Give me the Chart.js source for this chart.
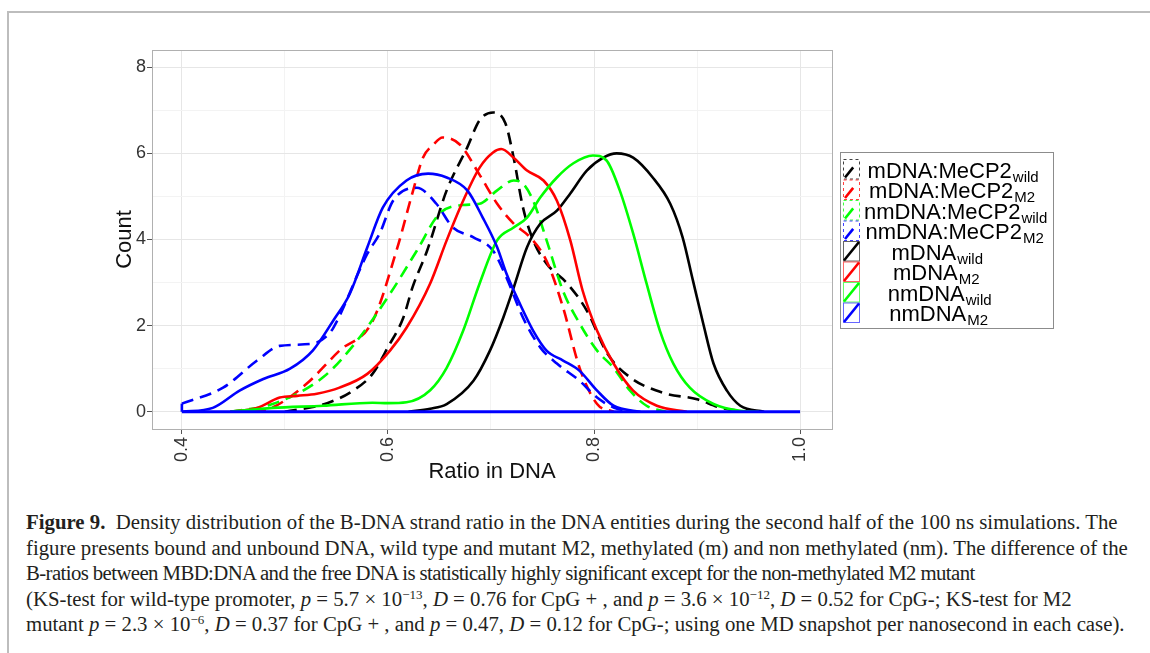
<!DOCTYPE html>
<html>
<head>
<meta charset="utf-8">
<title>B-DNA ratio density</title>
<script src="https://cdn.jsdelivr.net/npm/chart.js@4/dist/chart.umd.min.js"></script>
<style>
  body { margin: 0; background: #fff; width: 1150px; height: 653px; overflow: hidden; position: relative; }
  #frame { position: absolute; left: 7px; top: 11px; right: 0; bottom: 0; border-top: 2px solid #bdbdbd; border-left: 2px solid #bdbdbd; }
  #chart-box { position: absolute; left: 0; top: 0; width: 1150px; height: 495px; }
  #caption { position: absolute; left: 26px; top: 509px; font-family: "Liberation Serif", serif; font-size: 20.8px; line-height: 25.5px; color: #231f20; white-space: nowrap; }
  #caption .tight { letter-spacing: -0.6px; }
  #caption sup { font-size: 13px; line-height: 0; vertical-align: 7px; }
</style>
</head>
<body>
<div id="frame"></div>
<div id="chart-box"><canvas id="density-chart" width="1150" height="495"></canvas></div>
<div id="caption">
  <div><b>Figure 9.</b>&nbsp; Density distribution of the B-DNA strand ratio in the DNA entities during the second half of the 100 ns simulations. The</div>
  <div>figure presents bound and unbound DNA, wild type and mutant M2, methylated (m) and non methylated (nm). The difference of the</div>
  <div class="tight">B-ratios between MBD:DNA and the free DNA is statistically highly significant except for the non-methylated M2 mutant</div>
  <div>(KS-test for wild-type promoter, <i>p</i> = 5.7 × 10<sup>−13</sup>, <i>D</i> = 0.76 for CpG + , and <i>p</i> = 3.6 × 10<sup>−12</sup>, <i>D</i> = 0.52 for CpG-; KS-test for M2</div>
  <div>mutant <i>p</i> = 2.3 × 10<sup>−6</sup>, <i>D</i> = 0.37 for CpG + , and <i>p</i> = 0.47, <i>D</i> = 0.12 for CpG-; using one MD snapshot per nanosecond in each case).</div>
</div>
<script>
// axis ticks (minor ticks get an empty label)
const ratioTicks = [0.4, 0.5, 0.6, 0.7, 0.8, 0.9, 1.0];
const ratioTickLabels = ["0.4", "", "0.6", "", "0.8", "", "1.0"];
const countTicks = [0, 1, 2, 3, 4, 5, 6, 7, 8];
const countTickLabels = ["0", "", "2", "", "4", "", "6", "", "8"];

// mDNA:MeCP2 wild
const mMecpWildX = [0.5, 0.541, 0.566, 0.585, 0.6, 0.615, 0.624, 0.638, 0.657, 0.677, 0.689, 0.702, 0.714, 0.722, 0.731, 0.741, 0.754, 0.774, 0.793, 0.813, 0.835, 0.867, 0.9, 0.922, 0.948];
const mMecpWildY = [0, 0.2, 0.49, 0.88, 1.5, 2.19, 2.9, 3.74, 5.14, 6.14, 6.77, 6.95, 6.7, 5.9, 4.75, 3.98, 3.44, 2.98, 2.35, 1.35, 0.8, 0.44, 0.29, 0.1, 0];

// mDNA:MeCP2 M2
const mMecpM2X = [0.47, 0.488, 0.521, 0.553, 0.585, 0.609, 0.624, 0.634, 0.644, 0.653, 0.67, 0.689, 0.706, 0.722, 0.738, 0.754, 0.77, 0.786, 0.803, 0.819];
const mMecpM2Y = [0, 0.1, 0.65, 1.42, 2.1, 3.8, 5.1, 5.9, 6.2, 6.37, 6.2, 5.5, 4.83, 4.37, 4.05, 3.5, 2.42, 1.02, 0.18, 0];

// nmDNA:MeCP2 wild
const nmMecpWildX = [0.447, 0.488, 0.537, 0.57, 0.602, 0.628, 0.65, 0.673, 0.689, 0.706, 0.722, 0.731, 0.741, 0.754, 0.77, 0.786, 0.803, 0.819, 0.835, 0.851, 0.87];
const nmMecpWildY = [0, 0.18, 0.8, 1.65, 2.74, 3.74, 4.6, 4.8, 4.83, 5.14, 5.37, 5.3, 4.9, 3.98, 2.8, 2.05, 1.42, 1.02, 0.49, 0.14, 0];

// nmDNA:MeCP2 M2 (its outline closes down to 0 at x = 0.4)
const nmMecpM2X = [0.4, 0.44, 0.473, 0.495, 0.527, 0.541, 0.547, 0.58, 0.592, 0.605, 0.628, 0.647, 0.663, 0.683, 0.702, 0.715, 0.731, 0.748, 0.764, 0.786, 0.803, 0.819, 0.84];
const nmMecpM2Y = [0.19, 0.56, 1.19, 1.53, 1.58, 1.77, 1.95, 3.67, 4.14, 4.9, 5.2, 4.83, 4.28, 4.05, 3.74, 3.12, 2.19, 1.49, 1.12, 0.72, 0.33, 0.1, 0];
const nmMecpM2EdgeX = [0.4, 0.4];
const nmMecpM2EdgeY = [0, 0.19];

// mDNA wild
const mWildX = [0.62, 0.641, 0.657, 0.683, 0.699, 0.712, 0.722, 0.735, 0.748, 0.764, 0.777, 0.793, 0.809, 0.822, 0.838, 0.857, 0.874, 0.886, 0.896, 0.906, 0.916, 0.929, 0.942, 0.965];
const mWildY = [0, 0.07, 0.18, 0.72, 1.42, 2.19, 2.88, 3.82, 4.37, 4.67, 5.07, 5.6, 5.9, 6.0, 5.9, 5.44, 4.83, 4.05, 3.05, 2.05, 1.12, 0.49, 0.14, 0];

// mDNA M2
const mM2X = [0.447, 0.473, 0.495, 0.512, 0.531, 0.553, 0.58, 0.602, 0.618, 0.641, 0.657, 0.673, 0.689, 0.702, 0.71, 0.722, 0.735, 0.751, 0.764, 0.777, 0.789, 0.803, 0.819, 0.838, 0.861, 0.89];
const mM2Y = [0, 0.09, 0.33, 0.37, 0.42, 0.56, 0.88, 1.42, 1.95, 2.98, 3.98, 4.9, 5.67, 6.02, 6.1, 5.9, 5.6, 5.37, 4.9, 3.98, 2.81, 1.88, 1.12, 0.49, 0.14, 0];

// nmDNA wild
const nmWildX = [0.447, 0.488, 0.537, 0.585, 0.6, 0.618, 0.641, 0.657, 0.673, 0.689, 0.706, 0.722, 0.735, 0.748, 0.764, 0.78, 0.799, 0.812, 0.825, 0.838, 0.851, 0.864, 0.877, 0.893, 0.916, 0.942, 0.96];
const nmWildY = [0, 0.09, 0.14, 0.21, 0.2, 0.22, 0.5, 1.02, 1.88, 2.98, 3.98, 4.28, 4.51, 4.98, 5.44, 5.77, 5.95, 5.84, 5.14, 4.14, 2.98, 1.88, 1.12, 0.56, 0.18, 0.02, 0];

// nmDNA M2
const nmM2X = [0.4, 0.43, 0.456, 0.479, 0.505, 0.527, 0.547, 0.563, 0.58, 0.595, 0.618, 0.639, 0.657, 0.677, 0.692, 0.706, 0.715, 0.728, 0.741, 0.754, 0.77, 0.786, 0.803, 0.819, 0.845];
const nmM2Y = [0, 0.09, 0.49, 0.76, 1.0, 1.42, 2.12, 2.74, 3.82, 4.74, 5.37, 5.53, 5.44, 5.14, 4.51, 3.82, 3.21, 2.51, 1.88, 1.42, 1.19, 0.95, 0.49, 0.14, 0];

// shared zero line of the closed density outlines
const baseX = [0.4, 1.0];
const baseY = [0, 0];

const DASH = [12, 7];

function toPoints(xs, ys) {
  return xs.map((x, i) => ({ x: x, y: ys[i] }));
}

// legend order; the last one ends up on top of the plot
const series = [
  { main: "mDNA:MeCP2", sub: "wild", color: "#000000", dashed: true, xs: mMecpWildX, ys: mMecpWildY },
  { main: "mDNA:MeCP2", sub: "M2", color: "#ff0000", dashed: true, xs: mMecpM2X, ys: mMecpM2Y },
  { main: "nmDNA:MeCP2", sub: "wild", color: "#00ff00", dashed: true, xs: nmMecpWildX, ys: nmMecpWildY },
  { main: "nmDNA:MeCP2", sub: "M2", color: "#0000ff", dashed: true, xs: nmMecpM2X, ys: nmMecpM2Y },
  { main: "mDNA", sub: "wild", color: "#000000", dashed: false, xs: mWildX, ys: mWildY },
  { main: "mDNA", sub: "M2", color: "#ff0000", dashed: false, xs: mM2X, ys: mM2Y },
  { main: "nmDNA", sub: "wild", color: "#00ff00", dashed: false, xs: nmWildX, ys: nmWildY },
  { main: "nmDNA", sub: "M2", color: "#0000ff", dashed: false, xs: nmM2X, ys: nmM2Y }
];

const datasets = series.map((s, i) => ({
  label: s.main + " " + s.sub,
  data: toPoints(s.xs, s.ys),
  borderColor: s.color,
  borderWidth: 2.6,
  borderDash: s.dashed ? DASH : [],
  cubicInterpolationMode: "monotone",
  pointRadius: 0,
  fill: false,
  order: 20 - i
}));

datasets.push({
  label: "nmDNA:MeCP2 M2 edge",
  data: toPoints(nmMecpM2EdgeX, nmMecpM2EdgeY),
  borderColor: "#0000ff",
  borderWidth: 2.6,
  tension: 0,
  pointRadius: 0,
  fill: false,
  order: 15
});

datasets.push({
  label: "baseline",
  data: toPoints(baseX, baseY),
  borderColor: "#0000ff",
  borderWidth: 3,
  tension: 0,
  pointRadius: 0,
  fill: false,
  order: 1
});

// grey panel frame, drawn under the curves
const panelFrame = {
  id: "panelFrame",
  beforeDatasetsDraw(chart) {
    const { ctx, chartArea: a } = chart;
    ctx.save();
    ctx.strokeStyle = "#b0b0b0";
    ctx.lineWidth = 1;
    ctx.strokeRect(Math.round(a.left) + 0.5, Math.round(a.top) + 0.5,
      Math.round(a.right - a.left), Math.round(a.bottom - a.top));
    ctx.restore();
  }
};

function drawKey(ctx, x, y, w, h, s) {
  ctx.save();
  ctx.strokeStyle = s.color;
  if (s.dashed) {
    ctx.lineWidth = 1;
    ctx.setLineDash([3, 3]);
    ctx.globalAlpha = 0.75;
    ctx.strokeRect(x + 0.5, y + 0.5, w - 1, h - 1);
    ctx.globalAlpha = 1;
    ctx.lineWidth = 2.6;
    ctx.setLineDash([13, 40]);
    ctx.beginPath();
    ctx.moveTo(x + 2, y + h - 2);
    ctx.lineTo(x + w, y);
    ctx.stroke();
  } else {
    ctx.lineWidth = 1;
    ctx.globalAlpha = 0.6;
    ctx.strokeRect(x + 0.5, y + 0.5, w - 1, h - 1);
    ctx.globalAlpha = 1;
    ctx.lineWidth = 2.6;
    ctx.beginPath();
    ctx.moveTo(x + 1, y + h - 1);
    ctx.lineTo(x + w - 1, y + 1);
    ctx.stroke();
  }
  ctx.restore();
}

// legend with subscripted labels
const subLegend = {
  id: "subLegend",
  afterDraw(chart) {
    const ctx = chart.ctx;
    ctx.save();
    ctx.strokeStyle = "#8c8c8c";
    ctx.lineWidth = 1;
    ctx.strokeRect(840.5, 152.5, 213, 176);
    const rowH = 20.5;
    series.forEach((s, i) => {
      const top = 159 + i * rowH;
      drawKey(ctx, 843, top, 17, rowH, s);
      ctx.fillStyle = "#000";
      ctx.textBaseline = "alphabetic";
      ctx.textAlign = "left";
      ctx.font = '22px "Liberation Sans", Arial, sans-serif';
      const mw = ctx.measureText(s.main).width;
      ctx.font = '15px "Liberation Sans", Arial, sans-serif';
      const sw = ctx.measureText(s.sub).width;
      const start = 918.6 - 0.3 * (mw + sw);
      const base = top + 18.5;
      ctx.font = '22px "Liberation Sans", Arial, sans-serif';
      ctx.fillText(s.main, start, base);
      ctx.font = '15px "Liberation Sans", Arial, sans-serif';
      ctx.fillText(s.sub, start + mw + 1, base + 4);
    });
    ctx.restore();
  }
};

const canvas = document.getElementById("density-chart").getContext("2d");
new Chart(canvas, {
  type: "line",
  data: { datasets: datasets },
  plugins: [panelFrame, subLegend],
  options: {
    responsive: false,
    animation: false,
    devicePixelRatio: 1,
    layout: { padding: { left: 112, top: 50, right: 318, bottom: 10 } },
    plugins: {
      legend: { display: false },
      tooltip: { enabled: false }
    },
    scales: {
      x: {
        type: "linear",
        min: 0.371,
        max: 1.031,
        afterBuildTicks: (scale) => { scale.ticks = ratioTicks.map(v => ({ value: v })); },
        afterFit: (scale) => { scale.height = 56; },
        border: { display: false },
        grid: {
          color: (c) => ratioTickLabels[c.index] ? "#e6e6e6" : "#f3f3f3",
          tickColor: (c) => ratioTickLabels[c.index] ? "#555555" : "rgba(0,0,0,0)",
          tickLength: 5,
          lineWidth: 1
        },
        ticks: {
          autoSkip: false,
          minRotation: 90,
          maxRotation: 90,
          padding: 3,
          color: "#333333",
          font: { family: '"Liberation Sans", Arial, sans-serif', size: 18 },
          callback: (v, i) => ratioTickLabels[i]
        },
        title: {
          display: true,
          text: "Ratio in DNA",
          color: "#111111",
          padding: 0,
          font: { family: '"Liberation Sans", Arial, sans-serif', size: 22 }
        }
      },
      y: {
        type: "linear",
        min: -0.4,
        max: 8.4,
        afterBuildTicks: (scale) => { scale.ticks = countTicks.map(v => ({ value: v })); },
        afterFit: (scale) => { scale.width = 40; },
        border: { display: false },
        grid: {
          color: (c) => countTickLabels[c.index] ? "#e6e6e6" : "#f3f3f3",
          tickColor: (c) => countTickLabels[c.index] ? "#555555" : "rgba(0,0,0,0)",
          tickLength: 5,
          lineWidth: 1
        },
        ticks: {
          autoSkip: false,
          padding: 1,
          color: "#333333",
          font: { family: '"Liberation Sans", Arial, sans-serif', size: 18 },
          callback: (v, i) => countTickLabels[i]
        },
        title: {
          display: true,
          text: "Count",
          color: "#111111",
          padding: 0,
          font: { family: '"Liberation Sans", Arial, sans-serif', size: 22 }
        }
      }
    }
  }
});
</script>
</body>
</html>
